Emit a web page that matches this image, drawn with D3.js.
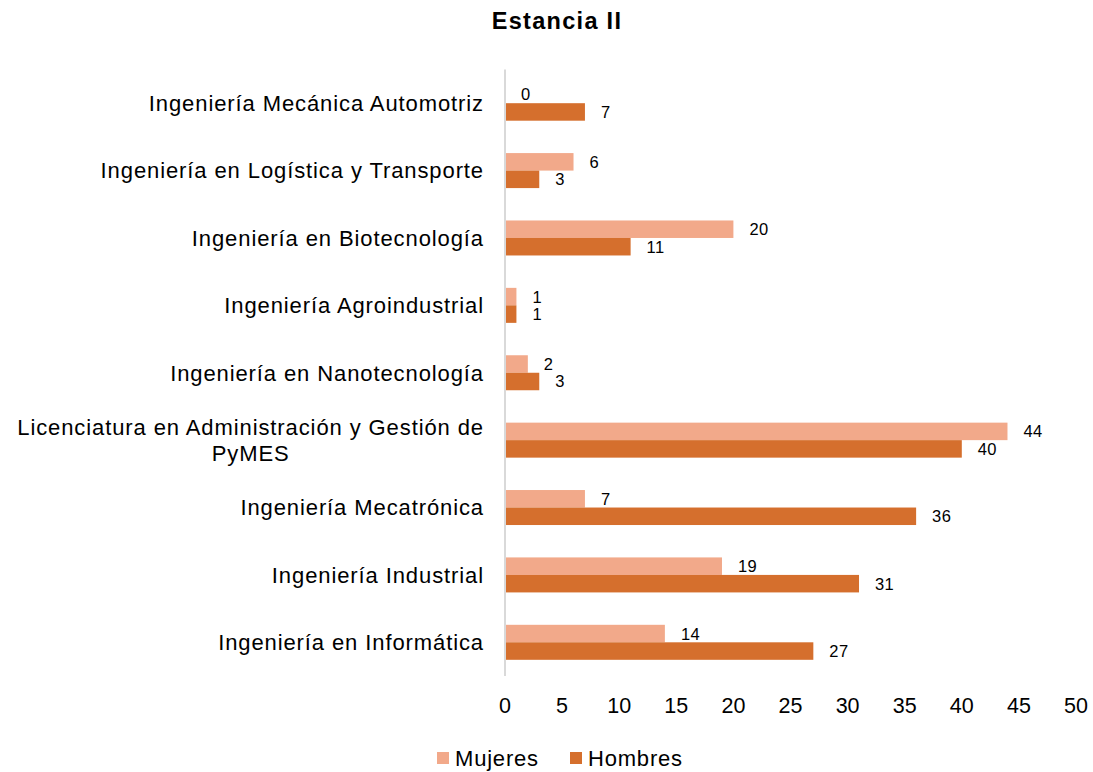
<!DOCTYPE html>
<html>
<head>
<meta charset="utf-8">
<script src="https://cdn.jsdelivr.net/npm/d3@7"></script>
<style>
  body { margin: 0; background: #fff; }
  text { font-family: "Liberation Sans", Arial, sans-serif; fill: #000; }
</style>
</head>
<body>
<div id="chart"></div>
<script>
// data, top to bottom as in the chart
const categories = [
    "Ingeniería Mecánica Automotriz",
    "Ingeniería en Logística y Transporte",
    "Ingeniería en Biotecnología",
    "Ingeniería Agroindustrial",
    "Ingeniería en Nanotecnología",
    "Licenciatura en Administración y Gestión de|PyMES",
    "Ingeniería Mecatrónica",
    "Ingeniería Industrial",
    "Ingeniería en Informática"
];
const mujeres = [0, 6, 20, 1, 2, 44, 7, 19, 14];
const hombres = [7, 3, 11, 1, 3, 40, 36, 31, 27];
const seriesNames = ["Mujeres", "Hombres"];
const seriesColors = ["#F2A98A", "#D56F2D"];
const ticks = [0, 5, 10, 15, 20, 25, 30, 35, 40, 45, 50];

const width = 1093, height = 772;
const plotLeft = 505, plotRight = 1076, plotTop = 69.5, plotBottom = 676;

const svg = d3.select("#chart").append("svg")
    .attr("width", width)
    .attr("height", height);

// title
svg.append("text")
    .attr("x", 557)
    .attr("y", 28.5)
    .attr("text-anchor", "middle")
    .attr("font-size", 23.5)
    .attr("font-weight", "bold")
    .attr("letter-spacing", 1.3)
    .text("Estancia II");

const x = d3.scaleLinear().domain([0, 50]).range([plotLeft, plotRight]);
const y = d3.scaleBand().domain(categories).range([plotTop, plotBottom]);
const sub = d3.scaleBand().domain(seriesNames).range([0, 35]);

const rows = categories.map((c, i) => ({ cat: c, vals: [mujeres[i], hombres[i]] }));

const groups = svg.selectAll("g.row")
    .data(rows)
    .enter()
    .append("g")
    .attr("class", "row")
    .attr("transform", (d) => `translate(0,${y(d.cat) + y.bandwidth() / 2 - 17.5})`);

// bars
groups.selectAll("rect")
    .data((d) => d.vals.map((v, k) => ({ v, k })))
    .enter()
    .append("rect")
    .attr("x", x(0))
    .attr("y", (d) => sub(seriesNames[d.k]))
    .attr("width", (d) => x(d.v) - x(0))
    .attr("height", sub.bandwidth())
    .attr("fill", (d) => seriesColors[d.k]);

// value labels
groups.selectAll("text.val")
    .data((d) => d.vals.map((v, k) => ({ v, k })))
    .enter()
    .append("text")
    .attr("class", "val")
    .attr("x", (d) => x(d.v) + 16)
    .attr("y", (d) => sub(seriesNames[d.k]) + sub.bandwidth() / 2)
    .attr("dy", "0.36em")
    .attr("font-size", 16.5)
    .attr("letter-spacing", 0.4)
    .text((d) => d.v);

// category labels (multi-line label: lines centred on each other, block right-aligned)
groups.each(function (d) {
    const lines = d.cat.split("|");
    const g = d3.select(this);
    const t = g.append("text")
        .attr("font-size", 22)
        .attr("letter-spacing", 0.9)
        .attr("text-anchor", "end");
    const spans = lines.map((ln, i) =>
        t.append("tspan")
            .attr("x", 484)
            .attr("y", 17.5 + (i - (lines.length - 1) / 2) * 26)
            .attr("dy", "0.36em")
            .text(ln)
    );
    if (lines.length > 1) {
        const widest = d3.max(spans, (s) => s.node().getComputedTextLength());
        t.attr("text-anchor", "middle");
        spans.forEach((s) => s.attr("x", 484 - widest / 2));
    }
});

// vertical axis line
svg.append("line")
    .attr("x1", x(0)).attr("x2", x(0))
    .attr("y1", plotTop).attr("y2", plotBottom)
    .attr("stroke", "#d9d9d9")
    .attr("stroke-width", 2);

// x tick labels
svg.selectAll("text.tick")
    .data(ticks)
    .enter()
    .append("text")
    .attr("class", "tick")
    .attr("x", (d) => x(d))
    .attr("y", 705)
    .attr("dy", "0.36em")
    .attr("text-anchor", "middle")
    .attr("font-size", 21.5)
    .text((d) => d);

// legend
const legendX = [437, 570];
const legend = svg.selectAll("g.leg")
    .data(seriesNames)
    .enter()
    .append("g")
    .attr("class", "leg")
    .attr("transform", (d, i) => `translate(${legendX[i]},752)`);
legend.append("rect")
    .attr("width", 12).attr("height", 12)
    .attr("fill", (d, i) => seriesColors[i]);
legend.append("text")
    .attr("x", 18).attr("y", 6)
    .attr("dy", "0.36em")
    .attr("font-size", 22)
    .attr("letter-spacing", 0.8)
    .text((d) => d);
</script>
</body>
</html>
